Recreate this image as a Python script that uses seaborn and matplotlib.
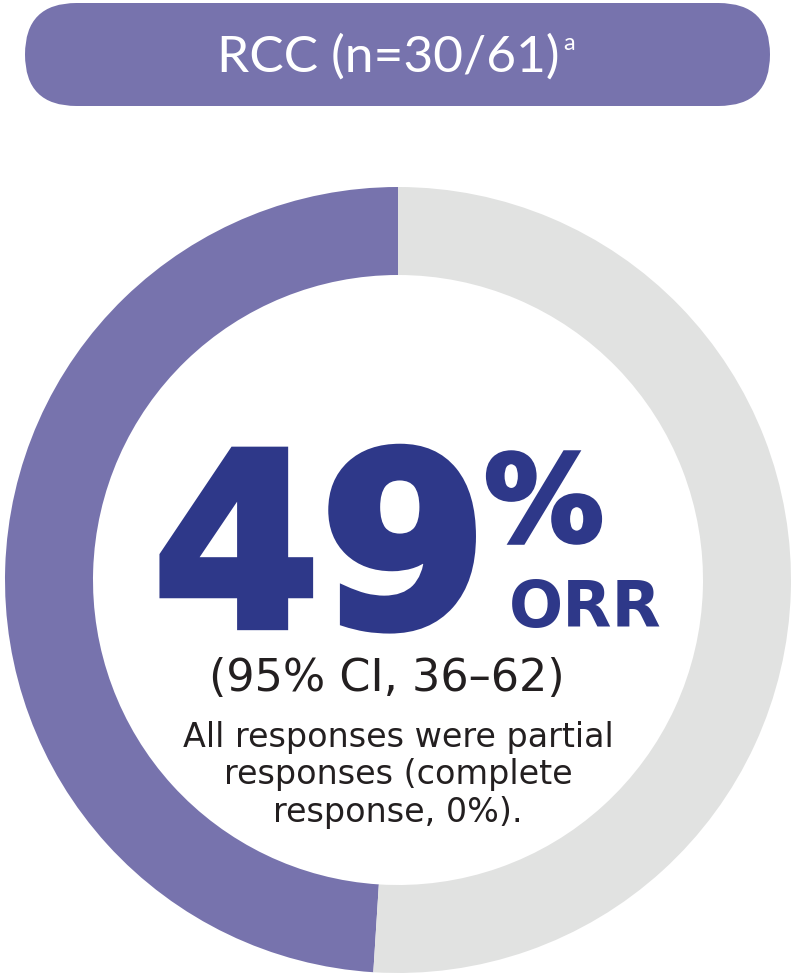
import matplotlib.pyplot as plt
import seaborn as sns
from matplotlib import patheffects
from matplotlib.patches import FancyBboxPatch

# values
cohort = "RCC"
responders = 30
evaluable = 61
orr_pct = 49
ci_low, ci_high = 36, 62
cr_pct = 0
ring_labels = ["Responders", "Others"]
ring_values = [orr_pct, 100 - orr_pct]

purple = "#7773ad"
grey = "#e1e2e1"
navy = "#2e3889"
ink = "#231f20"

sns.set_theme(style="white")
plt.rcParams["font.family"] = ["Lato", "DejaVu Sans"]

W, H = 791, 973
fig = plt.figure(figsize=(W / 100, H / 100), dpi=100)
ax = fig.add_axes([0, 0, 1, 1])

ax.pie(ring_values, labels=None, colors=sns.color_palette([purple, grey]),
       startangle=90, counterclock=True, center=(398, 393), radius=393,
       wedgeprops=dict(width=88, linewidth=0))
ax.set_xlim(0, W)
ax.set_ylim(0, H)
ax.set_aspect("equal")
ax.axis("off")

# header pill
ax.add_patch(FancyBboxPatch((25, 867), 745, 103,
                            boxstyle="round,pad=0,rounding_size=51.5",
                            fc=purple, ec="none"))
ax.text(388, 901, f"{cohort} (n={responders}/{evaluable})",
        ha="center", va="baseline", color="white", fontsize=37)
ax.text(563, 923, "a", ha="left", va="baseline", color="white", fontsize=17)

# big number, stroked a little to get the black weight
thick = [patheffects.withStroke(linewidth=6, foreground=navy,
                                joinstyle="miter")]
ax.text(320, 347, f"{orr_pct}", ha="center", va="baseline", color=navy,
        fontsize=173, fontweight="heavy", family="DejaVu Sans",
        path_effects=thick)
ax.text(544, 432, "%", ha="center", va="baseline", color=navy,
        fontsize=86, fontweight="heavy", family="DejaVu Sans",
        path_effects=[patheffects.withStroke(linewidth=3, foreground=navy,
                                             joinstyle="miter")])
ax.text(585, 346, "ORR", ha="center", va="baseline", color=navy,
        fontsize=46, fontweight="heavy", family="DejaVu Sans")

sub = ["DejaVu Sans"]
ax.text(387, 282, f"(95% CI, {ci_low}\u2013{ci_high})", ha="center",
        va="baseline", color=ink, fontsize=32, family=sub)

ax.text(398, 151, "All responses were partial\nresponses (complete\n"
        f"response, {cr_pct}%).", ha="center", va="baseline", color=ink,
        fontsize=24, linespacing=1.18, family=sub)

fig.savefig("out.png", dpi=100)
